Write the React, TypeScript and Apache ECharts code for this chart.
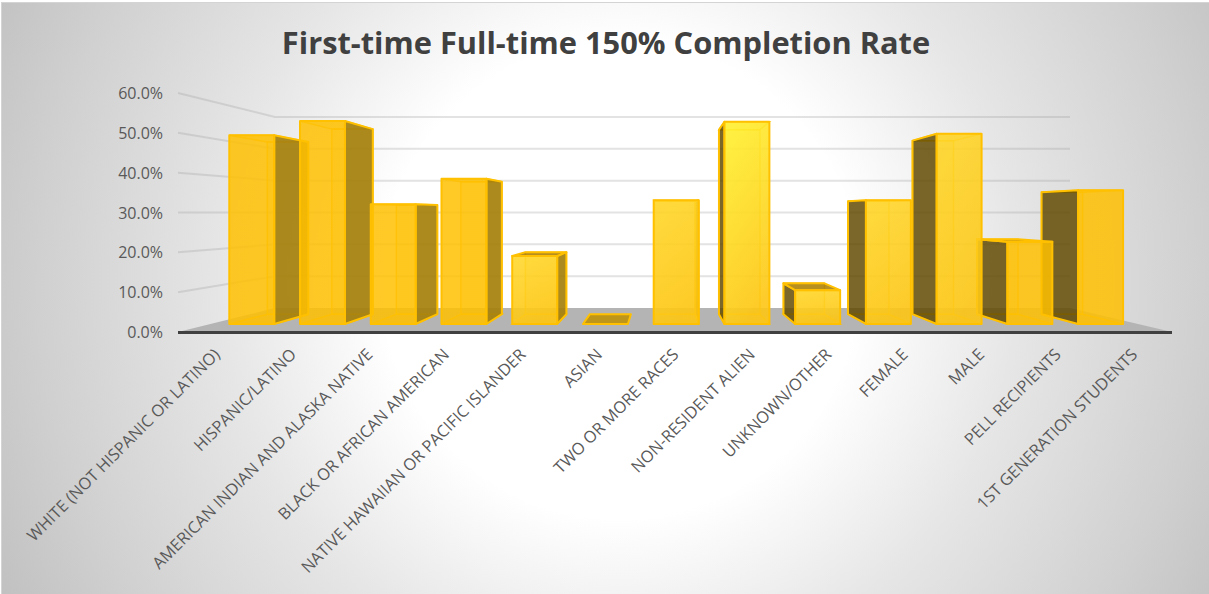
import React, { useEffect, useRef } from "react";
import * as echarts from "echarts";

const categories = [
  "WHITE (NOT HISPANIC OR LATINO)",
  "HISPANIC/LATINO",
  "AMERICAN INDIAN AND ALASKA NATIVE",
  "BLACK OR AFRICAN AMERICAN",
  "NATIVE HAWAIIAN OR PACIFIC ISLANDER",
  "ASIAN",
  "TWO OR MORE RACES",
  "NON-RESIDENT ALIEN",
  "UNKNOWN/OTHER",
  "FEMALE",
  "MALE",
  "PELL RECIPIENTS",
  "1ST GENERATION STUDENTS",
];
const rates = [50.8, 54.6, 32.2, 39.1, 18.3, 0, 33.3, 54.4, 9.1, 33.3, 51.2, 22.1, 36.0];
const wallTicks = [10, 20, 30, 40, 50, 60];

const TITLE = "First-time Full-time 150% Completion Rate";
const VP_X_FRAC = 0.4869; // vanishing point across the plot
const S_WALL = 0.8;
const S_BAR_FRONT = 0.933;
const S_BAR_BACK = 0.851;
const BAR_FRAC = 0.63;
const X_SPREAD = 0.9916;
const X_OFFSET = 2.2;
const ORANGE = "#ffc000";

function projector(params: any, api: any) {
  const cs = params.coordSys;
  const vx = cs.x + cs.width * VP_X_FRAC;
  const vy = api.coord([0, 30])[1];
  return (x: number, y: number, s: number) => [vx + (x - vx) * s, vy + (y - vy) * s];
}

function frontFill(i: number) {
  const d = Math.abs(i - 7);
  const lit = Math.max(0, 1 - d / 4);
  const top = lit > 0.8 ? "rgba(255,240,50,0.9)" : lit > 0.2 ? "rgba(255,214,40,0.88)" : "rgba(255,192,0,0.85)";
  const bottom = lit > 0.2 ? "rgba(253,198,20,0.9)" : "rgba(255,192,0,0.85)";
  return new echarts.graphic.LinearGradient(0.2, 0, 0.5, 1, [
    { offset: 0, color: top },
    { offset: 1, color: bottom },
  ]);
}

function renderBar(params: any, api: any) {
  const i = api.value(0);
  const v = api.value(1);
  const cs = params.coordSys;
  const [rawCx, y0] = api.coord([i, 0]);
  const mid = cs.x + cs.width / 2;
  const cx = mid + (rawCx - mid) * X_SPREAD + X_OFFSET;
  const y1 = api.coord([i, v])[1];
  const w = api.size([1, 0])[0] * BAR_FRAC;
  const xl = cx - w / 2;
  const xr = cx + w / 2;
  const p = projector(params, api);
  const onLeft = i < 6.5;
  const sideX = onLeft ? xr : xl;
  const sideFill = i <= 4 ? "rgba(165,128,14,0.92)" : "rgba(90,68,0,0.8)";
  const vy = api.coord([0, 30])[1];
  const topSeen = y1 > vy;
  const edge = { stroke: ORANGE, lineWidth: 2, lineJoin: "round" };
  const base = (7 - Math.abs(i - 6)) * 10;
  const poly = (pts: number[][], fill: any, z: number, stroke: any = edge) => ({
    type: "polygon",
    z2: base + z,
    shape: { points: pts },
    style: { fill, ...stroke },
  });
  const fl0 = p(xl, y0, S_BAR_FRONT), fr0 = p(xr, y0, S_BAR_FRONT);
  const fl1 = p(xl, y1, S_BAR_FRONT), fr1 = p(xr, y1, S_BAR_FRONT);
  const bl0 = p(xl, y0, S_BAR_BACK), br0 = p(xr, y0, S_BAR_BACK);
  const bl1 = p(xl, y1, S_BAR_BACK), br1 = p(xr, y1, S_BAR_BACK);
  const sf0 = p(sideX, y0, S_BAR_FRONT), sf1 = p(sideX, y1, S_BAR_FRONT);
  const sb0 = p(sideX, y0, S_BAR_BACK), sb1 = p(sideX, y1, S_BAR_BACK);
  const thin = { stroke: "rgba(255,192,0,0.75)", lineWidth: 1.5 };
  const children: any[] = [];
  if (v > 0) {
    children.push(poly([bl0, br0, br1, bl1], "rgba(255,192,0,0.18)", 0, thin));
    children.push(poly([fl0, fr0, br0, bl0], "rgba(255,192,0,0.2)", 1, thin));
    children.push(
      topSeen
        ? poly([fl1, fr1, br1, bl1], "rgba(170,125,0,0.85)", 3)
        : poly([fl1, fr1, br1, bl1], "rgba(255,192,0,0.15)", 1.5, thin)
    );
    children.push(poly([sf0, sb0, sb1, sf1], sideFill, 2));
    children.push(poly([fl0, fr0, fr1, fl1], frontFill(i), 4));
  } else {
    children.push(poly([fl0, fr0, br0, bl0], "rgba(190,145,10,0.9)", 3));
  }
  return { type: "group", children };
}

function renderWall(params: any, api: any) {
  const cs = params.coordSys;
  const y = api.coord([0, api.value(0)])[1];
  const p = projector(params, api);
  const left = cs.x;
  const right = cs.x + cs.width;
  return {
    type: "polyline",
    shape: { points: [[left, y], p(left, y, S_WALL), p(right, y, S_WALL)] },
    style: { stroke: "rgba(150,150,150,0.27)", lineWidth: 2, fill: "none" },
  };
}

function renderFloor(params: any, api: any) {
  const cs = params.coordSys;
  const y = api.coord([0, 0])[1];
  const p = projector(params, api);
  const left = cs.x;
  const right = cs.x + cs.width;
  return {
    type: "group",
    children: [
      {
        type: "polygon",
        shape: { points: [[left, y], [right, y], p(right, y, S_WALL), p(left, y, S_WALL)] },
        style: { fill: "#b4b4b4" },
      },
      {
        type: "line",
        shape: { x1: left, y1: y + 0.5, x2: right, y2: y + 0.5 },
        style: { stroke: "#404040", lineWidth: 3 },
      },
    ],
  };
}

export default function App() {
  const ref = useRef<HTMLDivElement>(null);
  useEffect(() => {
    document.body.style.margin = "0";
    const chart = echarts.init(ref.current!, undefined, { renderer: "svg" });
    chart.setOption({
      animation: false,
      backgroundColor: new echarts.graphic.RadialGradient(
        620,
        280,
        700,
        [
          { offset: 0, color: "#ffffff" },
          { offset: 0.34, color: "#ffffff" },
          { offset: 0.57, color: "#e6e6e6" },
          { offset: 0.83, color: "#d0d0d0" },
          { offset: 1, color: "#c0c0c0" },
        ],
        true
      ),
      graphic: [
        { type: "rect", shape: { x: 0, y: 0, width: 1209, height: 2 }, style: { fill: "#ffffff" } },
        { type: "rect", shape: { x: 0, y: 0, width: 1, height: 594 }, style: { fill: "#ffffff" } },
        { type: "rect", shape: { x: 1, y: 2, width: 1208, height: 1 }, style: { fill: "#d4d4d4" } },
        { type: "rect", shape: { x: 1, y: 2, width: 1, height: 592 }, style: { fill: "#d4d4d4" } },
      ],
      title: {
        text: TITLE,
        left: 601,
        top: 21,
        textAlign: "center",
        textStyle: { fontFamily: "Open Sans", fontWeight: "bold", fontSize: 30.8, color: "#404040" },
      },
      grid: { left: 178, right: 37, top: 93, bottom: 262, containLabel: false },
      xAxis: {
        type: "category",
        data: categories,
        axisLine: { show: false },
        axisTick: { show: false },
        splitLine: { show: false },
        axisLabel: {
          interval: 0,
          rotate: 45,
          margin: 19,
          fontFamily: "Open Sans",
          fontSize: 16.4,
          color: "#595959",
        },
      },
      yAxis: {
        type: "value",
        min: 0,
        max: 60,
        interval: 10,
        axisLine: { show: false },
        axisTick: { show: false },
        splitLine: { show: false },
        axisLabel: {
          margin: 15,
          fontFamily: "Open Sans",
          fontSize: 16,
          color: "#595959",
          formatter: (v: number) => v.toFixed(1) + "%",
        },
      },
      series: [
        {
          type: "custom",
          z: 1,
          silent: true,
          data: wallTicks.map((t) => [t]),
          encode: { y: 0 },
          renderItem: renderWall,
        },
        {
          type: "custom",
          z: 2,
          silent: true,
          data: [[0]],
          encode: { y: 0 },
          renderItem: renderFloor,
        },
        {
          type: "custom",
          z: 3,
          data: rates.map((v, i) => [i, v]),
          encode: { x: 0, y: 1 },
          renderItem: renderBar,
        },
      ],
    });
    return () => chart.dispose();
  }, []);
  return <div ref={ref} style={{ width: 1209, height: 594 }} />;
}
